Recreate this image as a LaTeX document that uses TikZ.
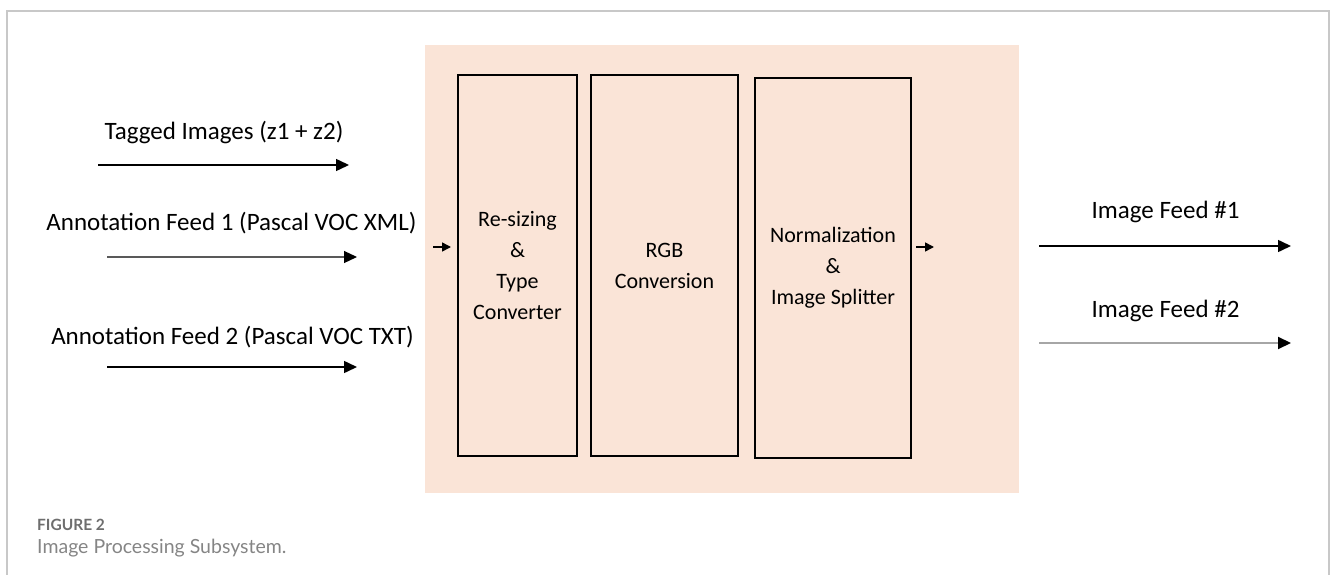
\documentclass[tikz,border=0pt]{standalone}
\usepackage{fontspec}
\setmainfont{Carlito}
\newfontfamily\capfont{Lato}
\usetikzlibrary{arrows.meta}
\definecolor{framegray}{HTML}{C8C8C8}
\definecolor{peach}{HTML}{FAE4D7}
\definecolor{capgray}{HTML}{858585}
\definecolor{capdark}{HTML}{6E6E6E}
\tikzset{
  stage/.style={draw=black, line width=1.8pt, inner sep=0pt, align=center,
    font=\fontsize{22}{31}\selectfont, minimum height=381},
  feedlabel/.style={font=\fontsize{25}{30}\selectfont, inner sep=0pt},
  feed/.style={line width=1.5pt, -{Triangle[length=13pt,width=12pt,color=black]}},
  hop/.style={line width=1.5pt, -{Triangle[length=9pt,width=9pt,color=black]}},
}
\begin{document}
\begin{tikzpicture}[x=1pt,y=-1pt]
\useasboundingbox (0,0) rectangle (1330,575);
% outer frame, open at the bottom
\draw[framegray, line width=1.2pt] (7,575) -- (7,11) -- (1329,11) -- (1329,575);
% processing panel
\fill[peach] (425,45) rectangle (1019,493);
% processing stages
\node[stage, minimum width=119] (resize) at (517.5,265.5) {Re-sizing\\\&\\Type\\Converter};
\node[stage, minimum width=147] (rgb) at (664.5,265.5) {RGB\\Conversion};
\node[stage, minimum width=156, minimum height=380] (norm) at (833,268) {Normalization\\\&\\Image Splitter};
% inputs
\node[feedlabel] (tagged) at (224,133) {Tagged Images (z1 + z2)};
\node[feedlabel] (ann1) at (231.5,223) {Annotation Feed 1 (Pascal VOC XML)};
\node[feedlabel] (ann2) at (232.5,337) {Annotation Feed 2 (Pascal VOC TXT)};
\coordinate (t0) at (98,165);  \coordinate (t1) at (349,165);
\coordinate (a0) at (107,257); \coordinate (a1) at (357,257);
\coordinate (b0) at (107,367); \coordinate (b1) at (357,367);
\draw[feed] (t0) -- (t1);
\draw[feed, draw=black!65, line width=1.2pt] (a0) -- (a1);
\draw[feed] (b0) -- (b1);
% hand-over arrows at the panel edges
\coordinate (in0) at (433,247);  \coordinate (in1) at (451,247);
\coordinate (out0) at (916,247); \coordinate (out1) at (934,247);
\draw[hop] (in0) -- (in1);
\draw[hop] (out0) -- (out1);
% outputs
\node[feedlabel] (img1) at (1165.5,212) {Image Feed \#1};
\node[feedlabel] (img2) at (1165.5,311) {Image Feed \#2};
\coordinate (o10) at (1039,246); \coordinate (o11) at (1291,246);
\coordinate (o20) at (1039,343); \coordinate (o21) at (1291,343);
\draw[feed] (o10) -- (o11);
\draw[feed, draw=black!35, line width=2pt] (o20) -- (o21);
% caption
\node[anchor=west, inner sep=0pt, text=capdark, font=\capfont\bfseries\fontsize{15.5}{18}\selectfont] (figno) at (37,525) {FIGURE 2};
\node[anchor=west, inner sep=0pt, text=capgray, font=\capfont\fontsize{19.5}{22}\selectfont] (figcap) at (37,548) {Image Processing Subsystem.};
\end{tikzpicture}
\end{document}
